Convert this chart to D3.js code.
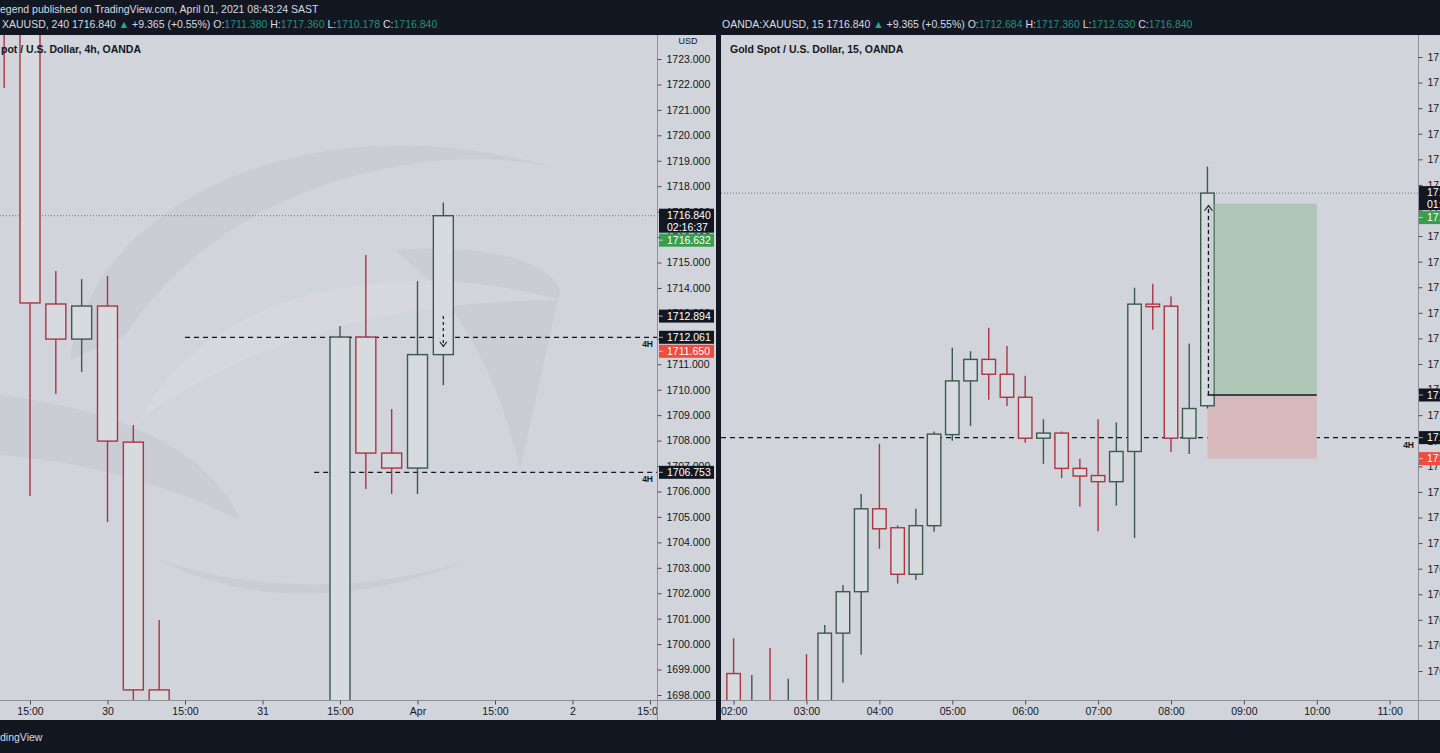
<!DOCTYPE html>
<html><head><meta charset="utf-8">
<script src="https://cdn.jsdelivr.net/npm/d3@7"></script>
<style>
html,body{margin:0;padding:0;background:#131722;overflow:hidden;}
svg{display:block;font-family:"Liberation Sans",Arial,sans-serif;}
</style></head><body>
<svg id="c" width="1440" height="753"></svg>
<script>
// ---------------- DATA ----------------
// Left chart: XAUUSD 4h candles (index along time axis)
const leftIndex = [0,1,2,3,4,5,6,7,8,9,10,11,12,13,14,15,16,17];
const leftOpen  = [1727.5,1725.2,1713.37,1711.99,1713.29,1707.94,1698.20,1691.5,1686.0,1683.0,1682.0,1685.0,1688.0,1690.0,1712.07,1707.51,1706.92,1711.38];
const leftHigh  = [1728.0,1726.0,1714.67,1714.35,1714.47,1708.61,1700.95,1694.0,1689.0,1686.0,1687.0,1690.0,1692.0,1712.50,1715.30,1709.24,1714.27,1717.36];
const leftLow   = [1721.86,1705.82,1709.83,1710.70,1704.80,1696.5,1690.5,1684.0,1680.0,1678.0,1677.0,1683.0,1686.0,1688.0,1706.10,1705.90,1705.90,1710.178];
const leftClose = [1725.2,1713.41,1711.99,1713.29,1707.98,1698.20,1691.5,1686.0,1683.0,1682.0,1685.0,1688.0,1690.0,1712.07,1707.51,1706.92,1711.38,1716.84];
const leftPriceTicks = [1698,1699,1700,1701,1702,1703,1704,1705,1706,1707,1708,1709,1710,1711,1712,1713,1714,1715,1716,1717,1718,1719,1720,1721,1722,1723];
const leftTimeTickIndex = [1,4,7,10,13,16,19,22,25];
const leftTimeTickLabels = ["15:00","30","15:00","31","15:00","Apr","15:00","2","15:00"];
const leftLevels = [1712.061, 1706.753];        // 4H levels
const leftLevelStart = [7, 12];                 // start index of 4H lines

// Right chart: XAUUSD 15m candles
const rightTimes = ["02:00","02:15","02:30","02:45","03:00","03:15","03:30","03:45","04:00","04:15","04:30","04:45","05:00","05:15","05:30","05:45","06:00","06:15","06:30","06:45","07:00","07:15","07:30","07:45","08:00","08:15","08:30"];
const rightOpen  = [1707.45,1706.60,1706.85,1706.50,1706.85,1706.60,1708.24,1709.05,1710.67,1710.30,1709.39,1710.34,1712.12,1713.17,1713.59,1713.30,1712.85,1712.05,1712.15,1711.46,1711.32,1711.20,1711.79,1714.67,1714.63,1712.05,1712.684];
const rightHigh  = [1708.14,1707.42,1707.95,1707.35,1707.83,1708.40,1709.18,1710.96,1711.94,1710.35,1710.67,1712.18,1713.82,1713.75,1714.21,1713.85,1713.27,1712.42,1712.18,1711.65,1712.42,1712.36,1714.99,1715.07,1714.82,1713.90,1717.36];
const rightLow   = [1706.50,1706.40,1706.30,1706.20,1706.30,1706.40,1707.27,1707.82,1709.89,1709.21,1709.28,1710.22,1712.00,1712.29,1712.80,1712.68,1711.96,1711.55,1711.27,1710.71,1710.23,1710.73,1710.10,1714.17,1711.78,1711.74,1712.63];
const rightClose = [1706.90,1706.85,1706.60,1706.85,1706.60,1708.24,1709.05,1710.67,1710.28,1709.39,1710.34,1712.13,1713.17,1713.59,1713.30,1712.85,1712.05,1712.15,1711.46,1711.31,1711.20,1711.79,1714.67,1714.62,1712.05,1712.63,1716.84];
const rightPriceTicks = [1707.5,1708,1708.5,1709,1709.5,1710,1710.5,1711,1711.5,1712,1712.5,1713,1713.5,1714,1714.5,1715,1715.5,1716,1716.5,1717,1717.5,1718,1718.5,1719,1719.5];
const rightTimeTicks = ["02:00","03:00","04:00","05:00","06:00","07:00","08:00","09:00","10:00","11:00"];
const rightLevel = 1712.061;
// Long position tool (right chart)
const posStart = "08:30", posEnd = "10:00";
const posTarget = 1716.632, posEntry = 1712.894, posStop = 1711.650;

// Price labels on axes
const lastPrice = 1716.84;
const leftCountdown = "02:16:37", rightCountdown = "01:36";
const axisBoxes = [
  {v:1716.632, kind:"green"},
  {v:1712.894, kind:"black"},
  {v:1712.061, kind:"black"},
  {v:1711.650, kind:"red"}
];
const leftExtraBox = {v:1706.753, kind:"black"};

// Header texts
const headerLine1 = "egend published on TradingView.com, April 01, 2021 08:43:24 SAST";
const leftLegend = {sym:"XAUUSD, 240", last:"1716.840", chg:"+9.365 (+0.55%)", o:"1711.380", h:"1717.360", l:"1710.178", c:"1716.840"};
const rightLegend = {sym:"OANDA:XAUUSD, 15", last:"1716.840", chg:"+9.365 (+0.55%)", o:"1712.684", h:"1717.360", l:"1712.630", c:"1716.840"};
const leftTitle = "pot / U.S. Dollar, 4h, OANDA";
const rightTitle = "Gold Spot / U.S. Dollar, 15, OANDA";

// ---------------- STYLE ----------------
const BG = "#d1d4da", DARK = "#131722", AXLINE = "#8d9097";
const UP = "#3b5b4d", DOWN = "#ad3440", BODY = "#d7dadf";
const FS = "10.5px";

const svg = d3.select("#c");
const defs = svg.append("defs");
function clip(id,x,y,w,h){defs.append("clipPath").attr("id",id).append("rect").attr("x",x).attr("y",y).attr("width",w).attr("height",h);}
clip("cL",0,35,657,665); clip("cR",721,35,697,665);
clip("cLT",0,700,657,20); clip("cRT",721,700,697,20);

svg.append("rect").attr("width",1440).attr("height",753).attr("fill",DARK);
svg.append("rect").attr("x",0).attr("y",35).attr("width",716).attr("height",685).attr("fill",BG);
svg.append("rect").attr("x",721).attr("y",35).attr("width",719).attr("height",685).attr("fill",BG);

// scales
const xL = d3.scaleLinear().domain([1,25]).range([30,650]);
const yL = d3.scaleLinear().domain([1698,1723]).range([695,59]);
const parseT = s => {const [h,m]=s.split(":").map(Number); return h+m/60;};
const xR = d3.scaleLinear().domain([2,11]).range([733.6,1389.7]);
const yR = d3.scaleLinear().domain([1707.5,1719.5]).range([671,57]);

// watermark (left pane)
const wm = svg.append("g").attr("clip-path","url(#cL)").attr("fill","#c5c8cf").attr("opacity",0.55);
wm.append("path").attr("d","M70,360 C90,210 300,95 555,168 C440,140 230,175 125,335 Z");
wm.append("path").attr("d","M0,395 C120,410 210,450 240,520 C160,480 70,460 0,455 Z");
wm.append("path").attr("d","M160,560 C240,600 340,610 470,560 C380,590 260,595 160,560 Z");
wm.append("path").attr("d","M395,250 C470,245 545,255 560,290 L520,470 C500,380 460,300 395,250 Z");
const wm2 = svg.append("g").attr("clip-path","url(#cL)").attr("fill","#d8dadf").attr("opacity",0.6);
wm2.append("path").attr("d","M140,420 C200,300 380,250 560,300 C420,300 260,330 140,420 Z");

// ---------------- LEFT PANE ----------------
const gL = svg.append("g").attr("clip-path","url(#cL)");
gL.append("line").attr("x1",0).attr("x2",657).attr("y1",yL(lastPrice)).attr("y2",yL(lastPrice))
  .attr("stroke","#6f727a").attr("stroke-dasharray","1,2");
leftLevels.forEach((v,i)=>{
  gL.append("line").attr("x1",xL(leftLevelStart[i])).attr("x2",657).attr("y1",yL(v)).attr("y2",yL(v))
    .attr("stroke",DARK).attr("stroke-width",1.2).attr("stroke-dasharray","5,4");
  gL.append("text").attr("x",653).attr("y",yL(v)+9.5).attr("text-anchor","end")
    .attr("font-size","8.5px").attr("font-weight","bold").attr("fill",DARK).text("4H");
});
function drawCandles(g, xs, O,Hh,Lo,C, xf, yf, w){
  xs.forEach((xv,i)=>{
    const up = C[i] >= O[i], col = up ? UP : DOWN, x = xf(xv);
    g.append("line").attr("x1",x).attr("x2",x).attr("y1",yf(Hh[i])).attr("y2",yf(Lo[i]))
      .attr("stroke",col).attr("stroke-width",1.4);
    const top = yf(Math.max(O[i],C[i])), bot = yf(Math.min(O[i],C[i]));
    g.append("rect").attr("x",x-w/2).attr("y",top).attr("width",w).attr("height",Math.max(bot-top,1))
      .attr("fill",BODY).attr("stroke",col).attr("stroke-width",1.4);
  });
}
drawCandles(gL, leftIndex, leftOpen,leftHigh,leftLow,leftClose, i=>xL(i), yL, 20);
{
  const ax = xL(17);
  gL.append("line").attr("x1",ax).attr("x2",ax).attr("y1",yL(1712.894)).attr("y2",yL(1711.65)-1)
    .attr("stroke",DARK).attr("stroke-width",1.2).attr("stroke-dasharray","3,3");
  gL.append("path").attr("d",`M${ax-3.5},${yL(1711.65)-6} L${ax},${yL(1711.65)-1.5} L${ax+3.5},${yL(1711.65)-6}`)
    .attr("fill","none").attr("stroke",DARK).attr("stroke-width",1.1);
}

svg.append("line").attr("x1",657.5).attr("x2",657.5).attr("y1",35).attr("y2",720).attr("stroke",AXLINE);
svg.append("line").attr("x1",0).attr("x2",716).attr("y1",700.5).attr("y2",700.5).attr("stroke",AXLINE);
svg.append("line").attr("x1",1418.5).attr("x2",1418.5).attr("y1",35).attr("y2",720).attr("stroke",AXLINE);
svg.append("line").attr("x1",721).attr("x2",1440).attr("y1",700.5).attr("y2",700.5).attr("stroke",AXLINE);

function styleAxis(g){
  g.select(".domain").remove();
  g.selectAll("line").attr("stroke","#4a4e57");
  g.selectAll("text").attr("fill",DARK).attr("font-size",FS).attr("font-family","Liberation Sans, Arial, sans-serif");
}
const axL = svg.append("g").attr("transform","translate(657.5,0)")
  .call(d3.axisRight(yL).tickValues(leftPriceTicks).tickFormat(d3.format(".3f")).tickSize(4).tickPadding(5));
styleAxis(axL);
svg.append("text").attr("x",688).attr("y",44).attr("text-anchor","middle").attr("font-size","9px").attr("fill",DARK).text("USD");

const axLT = svg.append("g").attr("clip-path","url(#cLT)").append("g").attr("transform","translate(0,700.5)")
  .call(d3.axisBottom(xL).tickValues(leftTimeTickIndex).tickFormat((d,i)=>leftTimeTickLabels[i]).tickSize(4).tickPadding(3));
styleAxis(axLT);

// ---------------- RIGHT PANE ----------------
const gR = svg.append("g").attr("clip-path","url(#cR)");
gR.append("line").attr("x1",721).attr("x2",1418).attr("y1",yR(lastPrice)).attr("y2",yR(lastPrice))
  .attr("stroke","#6f727a").attr("stroke-dasharray","1,2");
gR.append("line").attr("x1",721).attr("x2",1418).attr("y1",yR(rightLevel)).attr("y2",yR(rightLevel))
  .attr("stroke",DARK).attr("stroke-width",1.2).attr("stroke-dasharray","5,4");
gR.append("text").attr("x",1414).attr("y",yR(rightLevel)+10).attr("text-anchor","end")
  .attr("font-size","8.5px").attr("font-weight","bold").attr("fill",DARK).text("4H");
const px0 = xR(parseT(posStart)), px1 = xR(parseT(posEnd));
gR.append("rect").attr("x",px0).attr("y",yR(posTarget)).attr("width",px1-px0).attr("height",yR(posEntry)-yR(posTarget))
  .attr("fill","#b3c8bb");
gR.append("rect").attr("x",px0).attr("y",yR(posEntry)).attr("width",px1-px0).attr("height",yR(posStop)-yR(posEntry))
  .attr("fill","#d7b8bb");
drawCandles(gR, rightTimes.map(parseT), rightOpen,rightHigh,rightLow,rightClose, xR, yR, 13.5);
gR.append("rect").attr("x",px0).attr("y",yR(posTarget)).attr("width",px1-px0).attr("height",yR(posEntry)-yR(posTarget))
  .attr("fill","#9fc2ac").attr("opacity",0.25);
gR.append("line").attr("x1",px0).attr("x2",px1).attr("y1",yR(posEntry)).attr("y2",yR(posEntry))
  .attr("stroke",DARK).attr("stroke-width",1.3);
gR.append("line").attr("x1",px0+1).attr("x2",px0+1).attr("y1",yR(posEntry)).attr("y2",yR(posTarget)+2)
  .attr("stroke",DARK).attr("stroke-width",1.3).attr("stroke-dasharray","4,3");
gR.append("path").attr("d",`M${px0-3},${yR(posTarget)+7} L${px0+1},${yR(posTarget)+2} L${px0+5},${yR(posTarget)+7}`)
  .attr("fill","none").attr("stroke",DARK).attr("stroke-width",1.1);

const axR = svg.append("g").attr("transform","translate(1418.5,0)")
  .call(d3.axisRight(yR).tickValues(rightPriceTicks).tickFormat(d3.format(".3f")).tickSize(4).tickPadding(5));
styleAxis(axR);
const axRT = svg.append("g").attr("clip-path","url(#cRT)").append("g").attr("transform","translate(0,700.5)")
  .call(d3.axisBottom(xR).tickValues(rightTimeTicks.map(parseT)).tickFormat((d,i)=>rightTimeTicks[i]).tickSize(4).tickPadding(3));
styleAxis(axRT);

// ---------------- AXIS PRICE BOXES ----------------
const boxCol = {black:"#131722", green:"#389e4f", red:"#ef4b3f"};
function priceBoxes(x0, w, yf, countdown, extra){
  const g = svg.append("g");
  const h = 13;
  const cy = yf(lastPrice);
  let top = cy - 7;
  g.append("rect").attr("x",x0).attr("y",top).attr("width",w).attr("height",h*2-2).attr("fill",boxCol.black);
  g.append("text").attr("x",x0+8).attr("y",top+10).attr("fill","#fff").attr("font-size",FS).text(lastPrice.toFixed(3));
  g.append("text").attr("x",x0+8).attr("y",top+22).attr("fill","#fff").attr("font-size",FS).text(countdown);
  let prevBottom = top + h*2 - 2;
  const list = axisBoxes.concat(extra ? [extra] : []).sort((a,b)=>b.v-a.v);
  list.forEach(b=>{
    let t = yf(b.v) - h/2;
    if (t < prevBottom + 1) t = prevBottom + 1;
    g.append("rect").attr("x",x0).attr("y",t).attr("width",w).attr("height",h).attr("fill",boxCol[b.kind]);
    g.append("line").attr("x1",x0).attr("x2",x0+4).attr("y1",t+h/2).attr("y2",t+h/2).attr("stroke","#fff").attr("stroke-opacity",0.6);
    g.append("text").attr("x",x0+8).attr("y",t+10).attr("fill","#fff").attr("font-size",FS).text(b.v.toFixed(3));
    prevBottom = t + h;
  });
}
priceBoxes(659, 55, yL, leftCountdown, leftExtraBox);
priceBoxes(1419, 30, yR, rightCountdown, null);

svg.append("rect").attr("x",716).attr("y",35).attr("width",5).attr("height",685).attr("fill",DARK);

// ---------------- TITLES & HEADER ----------------
svg.append("text").attr("x",1).attr("y",53).attr("font-size",FS).attr("font-weight","bold").attr("fill",DARK).text(leftTitle);
svg.append("text").attr("x",730).attr("y",53).attr("font-size",FS).attr("font-weight","bold").attr("fill",DARK).text(rightTitle);

svg.append("text").attr("x",0).attr("y",13).attr("font-size","10.5px").attr("fill","#d8dbe2").text(headerLine1);
function legend(x, d){
  const t = svg.append("text").attr("x",x).attr("y",27.5).attr("font-size","10.5px").attr("fill","#d8dbe2");
  const teal = "#23907f";
  t.append("tspan").text(d.sym + " " + d.last + " ");
  t.append("tspan").attr("fill","#26a69a").text("▲");
  t.append("tspan").text(" " + d.chg + " O:");
  t.append("tspan").attr("fill",teal).text(d.o);
  t.append("tspan").text(" H:");
  t.append("tspan").attr("fill",teal).text(d.h);
  t.append("tspan").text(" L:");
  t.append("tspan").attr("fill",teal).text(d.l);
  t.append("tspan").text(" C:");
  t.append("tspan").attr("fill",teal).text(d.c);
}
legend(2, leftLegend);
legend(722, rightLegend);

svg.append("text").attr("x",0).attr("y",741).attr("font-size","10.5px").attr("fill","#d8dbe2").text("dingView");
</script>
</body></html>
